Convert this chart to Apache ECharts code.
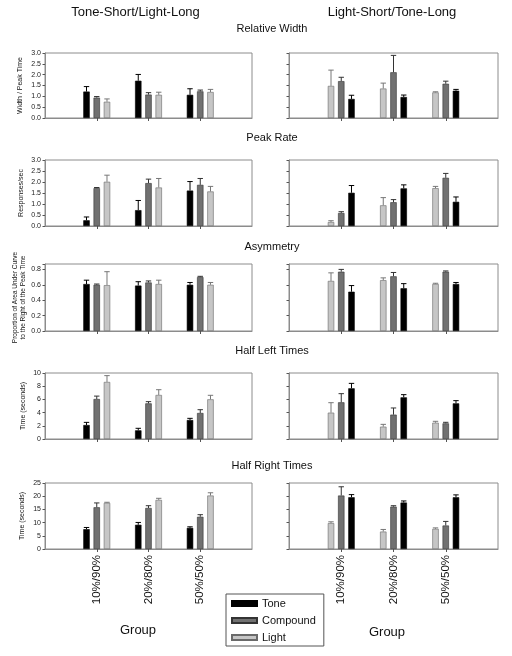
<!DOCTYPE html>
<html><head><meta charset="utf-8">
<script src="https://cdn.jsdelivr.net/npm/echarts@6/dist/echarts.min.js"></script>
<style>html,body{margin:0;padding:0;background:#fff}#c{width:512px;height:656px}</style>
</head><body><div id="c"></div>
<script>
// ---------------- DATA ----------------
const groups = ['10%/90%', '20%/80%', '50%/50%'];
const conditions = ['Tone', 'Compound', 'Light'];
const columnTitles = ['Tone-Short/Light-Long', 'Light-Short/Tone-Long'];
const panelTitles = ['Relative Width', 'Peak Rate', 'Asymmetry', 'Half Left Times', 'Half Right Times'];
const yNames = ['Width / Peak Time', 'Responses/sec', 'Proportion of Area Under Curve\nto the Right of the Peak Time', 'Time (seconds)', 'Time (seconds)'];
const yMax = [3, 3, 0.87, 10, 25];
const yStep = [0.5, 0.5, 0.2, 2, 5];
const yDecimals = [1, 1, 1, 0, 0];

// each array: rows = [Tone, Compound, Light], columns = groups
const widthLeftMean  = [[1.22, 1.72, 1.07], [0.94, 1.08, 1.23], [0.75, 1.07, 1.20]];
const widthLeftSem   = [[0.23, 0.29, 0.28], [0.05, 0.09, 0.06], [0.13, 0.12, 0.12]];
const widthRightMean = [[0.88, 0.97, 1.26], [1.70, 2.11, 1.58], [1.48, 1.36, 1.18]];
const widthRightSem  = [[0.17, 0.09, 0.06], [0.18, 0.78, 0.12], [0.73, 0.25, 0.03]];

const rateLeftMean  = [[0.26, 0.72, 1.61], [1.72, 1.95, 1.87], [2.01, 1.75, 1.57]];
const rateLeftSem   = [[0.15, 0.44, 0.41], [0.03, 0.18, 0.29], [0.30, 0.41, 0.23]];
const rateRightMean = [[1.51, 1.71, 1.10], [0.59, 1.08, 2.19], [0.18, 0.94, 1.72]];
const rateRightSem  = [[0.33, 0.16, 0.22], [0.06, 0.12, 0.20], [0.06, 0.35, 0.08]];

const asymLeftMean  = [[0.61, 0.59, 0.60], [0.60, 0.63, 0.70], [0.595, 0.61, 0.60]];
const asymLeftSem   = [[0.05, 0.05, 0.03], [0.01, 0.02, 0.01], [0.175, 0.05, 0.03]];
const asymRightMean = [[0.51, 0.555, 0.61], [0.77, 0.71, 0.77], [0.65, 0.66, 0.61]];
const asymRightSem  = [[0.08, 0.06, 0.02], [0.03, 0.05, 0.01], [0.105, 0.03, 0.01]];

const hLeftLeftMean  = [[2.12, 1.31, 2.88], [6.06, 5.40, 3.94], [8.64, 6.67, 6.01]];
const hLeftLeftSem   = [[0.40, 0.31, 0.25], [0.44, 0.26, 0.50], [0.96, 0.80, 0.61]];
const hLeftRightMean = [[7.68, 6.31, 5.40], [5.56, 3.69, 2.37], [3.99, 1.87, 2.47]];
const hLeftRightSem  = [[0.75, 0.41, 0.41], [1.31, 1.01, 0.16], [1.51, 0.35, 0.21]];

const hRightLeftMean  = [[7.5, 9.17, 8.0], [15.8, 15.54, 12.2], [17.45, 18.6, 20.25]];
const hRightLeftSem   = [[0.65, 0.89, 0.4], [1.65, 0.86, 0.8], [0.25, 0.6, 1.05]];
const hRightRightMean = [[19.6, 17.6, 19.6], [20.25, 16.05, 8.9], [9.8, 6.6, 7.64]];
const hRightRightSem  = [[1.0, 0.6, 0.9], [3.32, 0.35, 1.55], [0.5, 0.8, 0.36]];

const panelMeans = [[widthLeftMean, widthRightMean], [rateLeftMean, rateRightMean], [asymLeftMean, asymRightMean], [hLeftLeftMean, hLeftRightMean], [hRightLeftMean, hRightRightMean]];
const panelSems  = [[widthLeftSem, widthRightSem], [rateLeftSem, rateRightSem], [asymLeftSem, asymRightSem], [hLeftLeftSem, hLeftRightSem], [hRightLeftSem, hRightRightSem]];

// ---------------- STYLE / LAYOUT ----------------
const FONT = 'Liberation Sans, Arial, sans-serif';
const fills = ['#000000', '#717171', '#c6c6c6'];
const borders = ['#000000', '#333333', '#6a6a6a'];
const errColors = ['#000000', '#333333', '#777777'];
const columnOrder = [[0, 1, 2], [2, 1, 0]];
const rowTops = [53, 160, 264, 373, 483];
const rowHeights = [65, 66, 67, 66, 66];
const colLefts = [45, 289];
const colWidths = [207, 209];
const yNameGaps = [21, 19.5, 17, 18, 18.5];
const FRAME = '#8c8c8c';
const BAR_W = 6.4;
const BAR_STEP = BAR_W * 1.6;
const CAP = 2.7;

const grids = [], xAxes = [], yAxes = [], series = [];
const cats = [''].concat(groups, ['']);
const inner = (i) => i >= 1 && i <= 3;

for (let r = 0; r < 5; r++) {
  for (let c = 0; c < 2; c++) {
    const gi = grids.length;
    grids.push({left: colLefts[c], top: rowTops[r], width: colWidths[c], height: rowHeights[r],
      show: true, borderColor: FRAME, borderWidth: 1, backgroundColor: 'transparent',
      containLabel: false, outerBoundsMode: 'none'});
    xAxes.push({type: 'category', gridIndex: gi, data: cats, boundaryGap: false,
      axisLine: {lineStyle: {color: FRAME, width: 1}},
      axisTick: {show: true, interval: inner, length: 3, lineStyle: {color: '#555'}},
      axisLabel: {show: r === 4, interval: inner, rotate: 90, fontSize: 11.5, color: '#111', margin: 6, fontFamily: FONT},
      splitLine: {show: false}});
    const dec = yDecimals[r], mx = yMax[r], st = yStep[r];
    yAxes.push({type: 'value', gridIndex: gi, min: 0, max: mx, interval: st,
      name: c === 0 ? yNames[r] : '', nameLocation: 'middle', nameGap: yNameGaps[r],
      nameTextStyle: {fontSize: r === 2 ? 6.5 : 7, color: '#111', fontFamily: FONT, lineHeight: 8},
      axisLine: {show: true, lineStyle: {color: FRAME, width: 1}},
      axisTick: {show: true, length: 2.5, lineStyle: {color: '#555'}},
      axisLabel: {show: c === 0, fontSize: 7, color: '#222', margin: 4, fontFamily: FONT,
        formatter: (v) => (Math.abs(v / st - Math.round(v / st)) > 1e-6 ? '' : v.toFixed(dec))},
      splitLine: {show: false}});
    const means = panelMeans[r][c], sems = panelSems[r][c];
    const order = columnOrder[c];
    order.forEach((k) => {
      series.push({type: 'bar', name: conditions[k], xAxisIndex: gi, yAxisIndex: gi,
        barWidth: BAR_W, barGap: '60%',
        itemStyle: {color: fills[k], borderColor: borders[k], borderWidth: 0.6},
        data: groups.map((g, i) => [i + 1, means[k][i]])});
    });
    order.forEach((k, slot) => {
      series.push({type: 'custom', xAxisIndex: gi, yAxisIndex: gi, silent: true, z: 5,
        data: groups.map((g, i) => [i + 1, means[k][i], means[k][i] + sems[k][i]]),
        renderItem: (params, api) => {
          const p0 = api.coord([api.value(0), api.value(1)]);
          const p1 = api.coord([api.value(0), api.value(2)]);
          const cx = p0[0] + (slot - 1) * BAR_STEP;
          const st = {stroke: errColors[k], lineWidth: 1};
          return {type: 'group', children: [
            {type: 'line', shape: {x1: cx, y1: p0[1], x2: cx, y2: p1[1]}, style: st},
            {type: 'line', shape: {x1: cx - CAP, y1: p1[1], x2: cx + CAP, y2: p1[1]}, style: st}
          ]};
        }});
    });
  }
}

const titleY = [29, 138, 247, 351, 466];
const graphics = [];
panelTitles.forEach((t, r) => graphics.push({type: 'text', x: 272, y: titleY[r],
  style: {text: t, fontSize: 11, fill: '#111', fontFamily: FONT, align: 'center', verticalAlign: 'middle'}}));
graphics.push({type: 'text', x: 135.5, y: 12, style: {text: columnTitles[0], fontSize: 13, fill: '#111', fontFamily: FONT, align: 'center', verticalAlign: 'middle'}});
graphics.push({type: 'text', x: 392, y: 12, style: {text: columnTitles[1], fontSize: 13, fill: '#111', fontFamily: FONT, align: 'center', verticalAlign: 'middle'}});
graphics.push({type: 'text', x: 138, y: 630, style: {text: 'Group', fontSize: 13, fill: '#111', fontFamily: FONT, align: 'center', verticalAlign: 'middle'}});
graphics.push({type: 'text', x: 387, y: 632, style: {text: 'Group', fontSize: 13, fill: '#111', fontFamily: FONT, align: 'center', verticalAlign: 'middle'}});

const chart = echarts.init(document.getElementById('c'), null, {renderer: 'canvas'});
chart.setOption({
  animation: false,
  backgroundColor: '#fff',
  textStyle: {fontFamily: FONT},
  grid: grids, xAxis: xAxes, yAxis: yAxes, series: series,
  legend: {data: conditions, orient: 'vertical', left: 226, top: 594,
    itemWidth: 25, itemHeight: 5, itemGap: 6, icon: 'rect', selectedMode: false,
    borderColor: '#555', borderWidth: 1, padding: [4, 8, 3, 5], backgroundColor: '#fff',
    textStyle: {fontSize: 11, color: '#111', fontFamily: FONT}},
  graphic: graphics
});
</script></body></html>
